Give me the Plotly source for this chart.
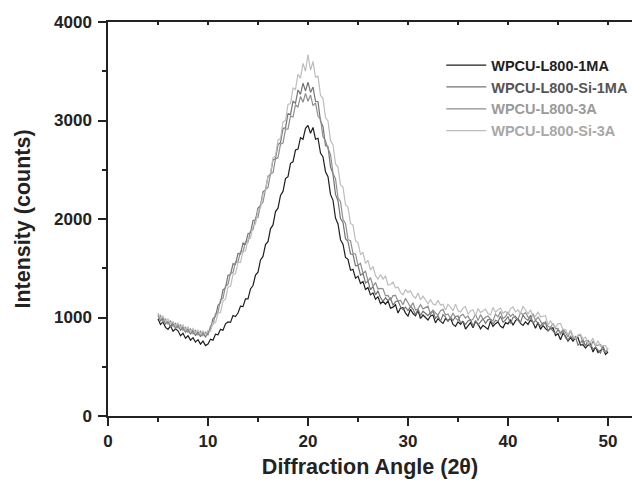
import plotly.graph_objects as go

# 2-theta positions: 5.00 to 50.00 in 0.25 steps (181 points)
two_theta = [5 + 0.25 * i for i in range(181)]

names = ["WPCU-L800-1MA", "WPCU-L800-Si-1MA", "WPCU-L800-3A", "WPCU-L800-Si-3A"]
line_colors = ["#1e1e1e", "#747474", "#8e8e8e", "#bdbdbd"]
text_colors = ["#1e1e1e", "#555555", "#9a9a9a", "#a8a8a8"]

wpcu_1ma = [
    985, 930, 955, 900,  880, 915, 860, 885,  865, 815, 840, 790,  815, 770, 795, 750,
    775, 730, 760, 715,  730, 780, 770, 830,  825, 880, 870, 935,  955, 950, 1020, 1010,
    1045, 1115, 1110, 1190,  1190, 1290, 1325, 1430,  1460, 1585, 1620, 1740,
    1770, 1900, 1940, 2075,  2110, 2240, 2280, 2410,  2430, 2565, 2580, 2700,
    2710, 2825, 2810, 2920,  2950, 2870, 2930, 2810,  2820, 2670, 2630, 2480,
    2430, 2250, 2190, 2010,  1950, 1790, 1745, 1610,  1590, 1480, 1490, 1400,
    1420, 1345, 1365, 1285,  1305, 1230, 1250, 1185,
    1210, 1140, 1165, 1135,  1170, 1095, 1105, 1130,  1045, 1097, 1100, 1045,
    1015, 1083, 1040, 1017,  1070, 990, 1025, 1003,  975, 1015, 1025, 945,
    990, 960, 940, 990,  965, 995, 930, 910,  955, 931, 962, 883,
    915, 947, 895, 958,  935, 885, 920, 900,  880, 963, 910, 937,
    955, 910, 895, 948,  935, 978, 921, 968,  990, 940, 920, 955,
    930, 975, 950, 892,  950, 880, 920, 887,  865, 888, 895, 817,
    835, 775, 840, 810,  760, 795, 760, 795,  795, 720, 725, 690,
    720, 725, 650, 700,  645, 665, 685, 625,  650,
]

wpcu_si_1ma = [
    1030, 965, 995, 935,  960, 905, 945, 890,  925, 870, 905, 850,  885, 830, 870, 815,
    855, 805, 850, 800,  850, 880, 990, 1010,  1125, 1150, 1280, 1300,  1430, 1435, 1545, 1540,
    1650, 1645, 1755, 1745,  1850, 1860, 1985, 1990,  2110, 2135, 2275, 2295,
    2435, 2450, 2600, 2610,  2755, 2775, 2920, 2925,  3070, 3060, 3195, 3175,
    3310, 3265, 3380, 3300,  3390, 3285, 3340, 3195,  3190, 2995, 2940, 2745,
    2735, 2530, 2455, 2250,  2185, 2005, 1965, 1800,  1770, 1645, 1640, 1525,
    1530, 1430, 1450, 1350,  1370, 1280, 1315, 1230,
    1270, 1202, 1165, 1200,  1170, 1197, 1125, 1160,  1170, 1110, 1080, 1105,
    1070, 1112, 1085, 1028,  1085, 1020, 1063, 1037,  1020, 1050, 1064, 993,
    1017, 961, 1030, 1005,  960, 1000, 970, 1010,  1015, 946, 957, 928,
    965, 978, 911, 970,  925, 955, 987, 940,  978, 981, 929, 972,
    960, 1013, 951, 974,  1010, 938, 1001, 1013,  970, 950, 1025, 988,
    970, 1023, 940, 970,  945, 913, 945, 947,  860, 898, 861, 834,
    877, 845, 868, 796,  770, 810, 780, 805,  720, 745, 770, 710,
    765, 735, 675, 700,  670, 640, 710, 645,  660,
]

wpcu_3a = [
    990, 1020, 955, 985,  935, 965, 910, 940,  895, 925, 870, 900,  850, 885, 835, 870,
    820, 860, 815, 850,  820, 915, 930, 1040,  1055, 1180, 1195, 1320,  1335, 1450, 1455, 1565,
    1565, 1670, 1665, 1770,  1765, 1880, 1890, 2010,  2015, 2145, 2170, 2300,
    2320, 2460, 2470, 2610,  2620, 2760, 2770, 2910,  2915, 3045, 3035, 3160,
    3135, 3245, 3185, 3275,  3195, 3260, 3150, 3180,  3045, 3015, 2835, 2795,
    2715, 2655, 2465, 2410,  2215, 2175, 1995, 1955,  1790, 1780, 1650, 1645,
    1530, 1550, 1450, 1470,  1370, 1405, 1320, 1355,
    1290, 1295, 1292, 1220,  1225, 1175, 1222, 1225,  1165, 1175, 1130, 1195,
    1150, 1107, 1149, 1076,  1088, 1130, 1088, 1101,  1115, 1028, 1076, 1045,
    1024, 1068, 1082, 1026,  1035, 990, 1045, 995,  970, 1016, 1032, 994,
    1016, 964, 983, 1033,  968, 1029, 981, 1003,  1015, 983, 966, 1034,
    1007, 1060, 988, 1010,  1052, 1009, 1036, 992,  983, 1047, 1030, 1050,
    1005, 983, 1040, 970,  1005, 963, 920, 957,  910, 898, 940, 887,
    890, 828, 881, 849,  802, 867, 797, 777,  812, 822, 737, 762,
    767, 697, 762, 712,  717, 727, 672, 647,  690,
]

wpcu_si_3a = [
    1045, 990, 1015, 955,  985, 935, 960, 910,  945, 895, 925, 870,  905, 855, 890, 835,
    875, 825, 865, 820,  870, 860, 950, 945,  1040, 1050, 1170, 1185,  1310, 1315, 1435, 1445,
    1560, 1560, 1675, 1675,  1790, 1805, 1930, 1950,  2085, 2110, 2255, 2285,
    2435, 2465, 2620, 2640,  2800, 2820, 2985, 3000,  3165, 3170, 3330, 3315,
    3470, 3430, 3580, 3500,  3670, 3510, 3600, 3440,  3450, 3255, 3225, 3030,
    2995, 2795, 2755, 2560,  2525, 2345, 2325, 2145,  2120, 1955, 1940, 1780,
    1760, 1640, 1660, 1550,  1580, 1480, 1520, 1425,
    1390, 1437, 1390, 1423,  1330, 1335, 1360, 1300,  1310, 1253, 1230, 1282,
    1255, 1270, 1220, 1195,  1250, 1180, 1217, 1178,  1140, 1181, 1137, 1128,
    1175, 1127, 1134, 1077,  1135, 1108, 1067, 1136,  1070, 1055, 1095, 1111,
    1033, 1066, 1079, 1017,  1090, 1050, 1065, 1085,  1040, 1026, 1102, 1053,
    1079, 1096, 1043, 1064,  1030, 1091, 1107, 1057,  1077, 1041, 1114, 1075,
    1035, 1078, 1005, 1016,  1055, 1007, 1013, 1019,  925, 966, 927, 898,
    935, 940, 876, 877,  825, 873, 816, 784,  822, 830, 785, 800,
    740, 750, 790, 715,  765, 705, 715, 715,  670,
]

series = [wpcu_1ma, wpcu_si_1ma, wpcu_3a, wpcu_si_3a]

x_ticks = [0, 10, 20, 30, 40, 50]
y_ticks = [0, 1000, 2000, 3000, 4000]

FONT = "Liberation Sans, Arial, sans-serif"

fig = go.Figure()
for name, ys, lc, tc in zip(names, series, line_colors, text_colors):
    fig.add_trace(go.Scatter(
        x=two_theta, y=ys, mode="lines",
        line=dict(color=lc, width=1.2),
        name=f"<span style='color:{tc}'>{name}</span>",
    ))

# helper empty trace to carry the top axis with inward ticks
fig.add_trace(go.Scatter(x=[], y=[], xaxis="x2", showlegend=False, hoverinfo="skip"))

axis_col = "#222222"
fig.update_layout(
    width=632, height=483,
    margin=dict(l=108, r=0, t=22, b=67, autoexpand=False),
    paper_bgcolor="white", plot_bgcolor="white",
    font=dict(family=FONT, color=axis_col),
    showlegend=True,
    legend=dict(
        x=0.636, y=0.931, xanchor="left", yanchor="top",
        bgcolor="rgba(0,0,0,0)", borderwidth=0,
        font=dict(family=FONT, size=14.5, weight="bold"),
        tracegroupgap=0, itemwidth=40,
    ),
    xaxis=dict(
        range=[0, 52.4], tickvals=x_ticks, automargin=False,
        ticks="outside", ticklen=8, tickwidth=1.5, tickcolor=axis_col,
        ticklabelstandoff=1,
        minor=dict(dtick=5, tick0=0, ticks="outside", ticklen=4, tickwidth=1.5, tickcolor=axis_col),
        showline=True, linecolor=axis_col, linewidth=1.5, mirror=True,
        showgrid=False, zeroline=False,
        tickfont=dict(size=17, weight="bold", family=FONT),
        title=dict(text="Diffraction Angle (2θ)", font=dict(size=21.5, weight="bold", family=FONT), standoff=9),
    ),
    xaxis2=dict(
        overlaying="x", matches="x", side="top", range=[0, 52.4], automargin=False,
        tick0=0, dtick=5, ticks="inside", ticklen=3, tickwidth=1.5, tickcolor=axis_col,
        showticklabels=False, showline=False, showgrid=False, zeroline=False,
    ),
    yaxis=dict(
        range=[0, 4000], tickvals=y_ticks, automargin=False,
        ticks="outside", ticklen=8, tickwidth=1.5, tickcolor=axis_col,
        ticklabelstandoff=3,
        minor=dict(dtick=500, tick0=0, ticks="outside", ticklen=4, tickwidth=1.5, tickcolor=axis_col),
        showline=True, linecolor=axis_col, linewidth=1.5,
        showgrid=False, zeroline=False,
        tickfont=dict(size=17, weight="bold", family=FONT),
        title=dict(text="Intensity (counts)", font=dict(size=21.5, weight="bold", family=FONT), standoff=17),
    ),
)

# remove the default page margin so the 632x483 figure fills the window exactly
fig.write_html(
    "out.html",
    config={"displayModeBar": False},
    post_script="document.body.style.margin='0';document.body.style.overflow='hidden';",
)
